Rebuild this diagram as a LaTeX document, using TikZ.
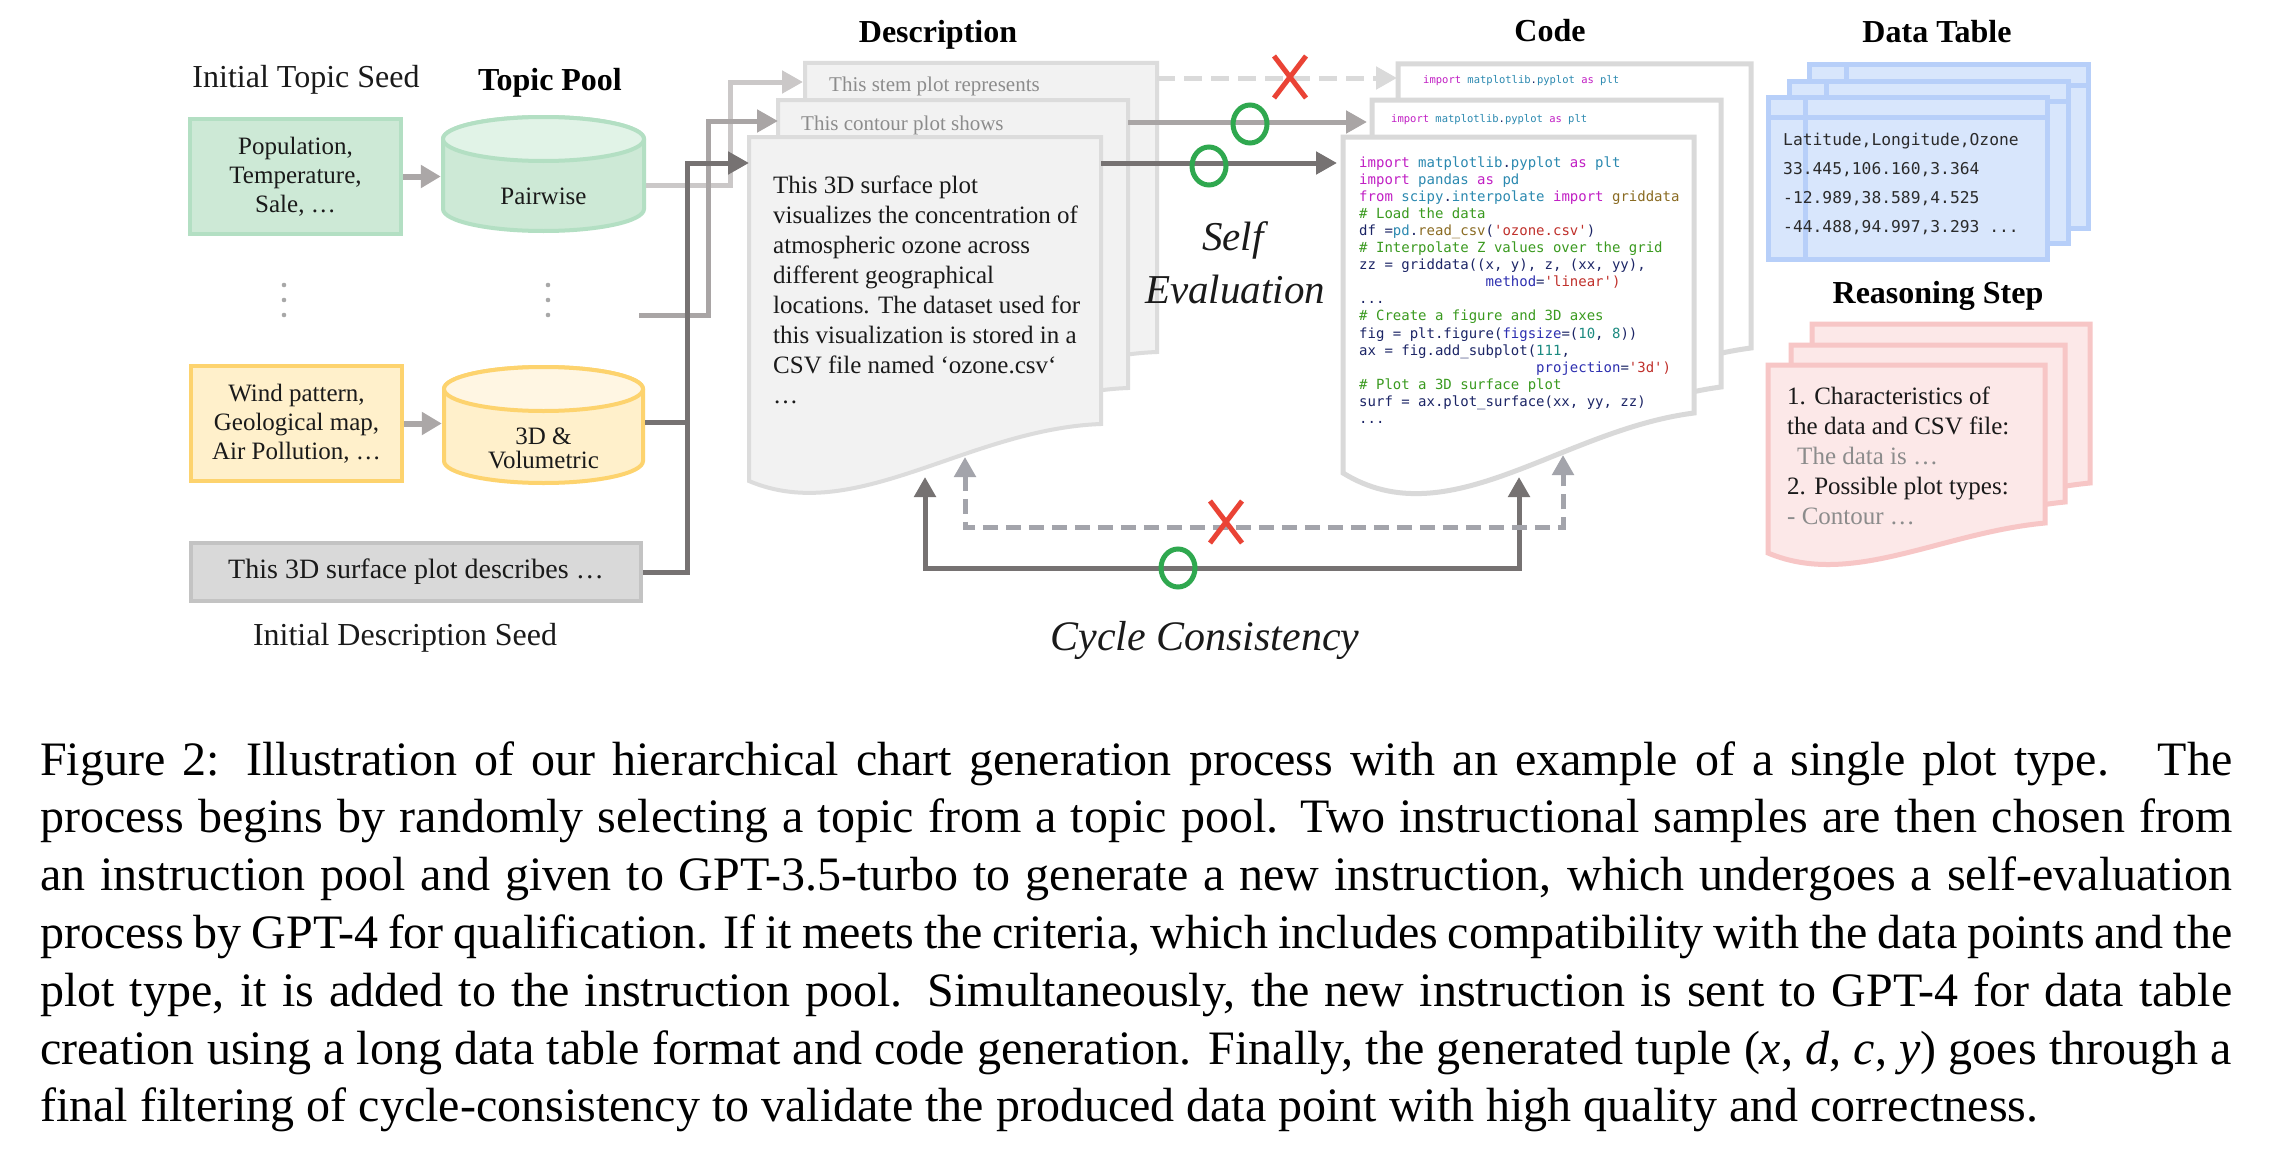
\documentclass[tikz,border=0pt]{standalone}
\usepackage{fontspec}
\setmainfont{Liberation Serif}
\newfontfamily\codefont{DejaVu Sans Mono}
\usetikzlibrary{arrows.meta}
\definecolor{gborder}{HTML}{B3DFC3}
\definecolor{gfill}{HTML}{CDE9D6}
\definecolor{gtop}{HTML}{E1F3E7}
\definecolor{yborder}{HTML}{FDD36E}
\definecolor{yfill}{HTML}{FFF0CB}
\definecolor{ytop}{HTML}{FFF6E3}
\definecolor{sborder}{HTML}{C3C3C3}
\definecolor{sfill}{HTML}{D9D9D9}
\definecolor{dotc}{HTML}{A8A8A8}
\definecolor{arrS}{HTML}{ABA7A7}
\definecolor{lnL}{HTML}{CBC8C8}
\definecolor{lnM}{HTML}{A9A5A5}
\definecolor{lnD}{HTML}{767272}
\definecolor{lnDash}{HTML}{DADADA}
\definecolor{cycG}{HTML}{A3A4AB}
\definecolor{pgB}{HTML}{DCDCDC}
\definecolor{pgF}{HTML}{F2F2F2}
\definecolor{cdB}{HTML}{D9D9D9}
\definecolor{tbB}{HTML}{B7CFF9}
\definecolor{tbF}{HTML}{D8E6FC}
\definecolor{rsB}{HTML}{F7C6C6}
\definecolor{rsF}{HTML}{FCE8E8}
\definecolor{txt}{HTML}{1A1A1A}
\definecolor{gtxt}{HTML}{8C8C8C}
\definecolor{redX}{HTML}{EA4335}
\definecolor{grnO}{HTML}{2FA84F}
\definecolor{ckw}{HTML}{C11FC4}
\definecolor{cmod}{HTML}{2B89B0}
\definecolor{cfn}{HTML}{8A6B22}
\definecolor{ccom}{HTML}{3A9A1F}
\definecolor{cnav}{HTML}{1C2566}
\definecolor{cstr}{HTML}{C0302B}
\definecolor{ckey}{HTML}{2D2FB0}
\definecolor{cnum}{HTML}{1B8A80}
\definecolor{ctab}{HTML}{2B2B2B}
\newcommand{\K}[1]{\textcolor{ckw}{#1}}
\newcommand{\M}[1]{\textcolor{cmod}{#1}}
\newcommand{\F}[1]{\textcolor{cfn}{#1}}
\newcommand{\Cm}[1]{\textcolor{ccom}{#1}}
\newcommand{\N}[1]{\textcolor{cnav}{#1}}
\newcommand{\Sq}[1]{\textcolor{cstr}{#1}}
\newcommand{\B}[1]{\textcolor{ckey}{#1}}
\newcommand{\U}[1]{\textcolor{cnum}{#1}}
\newcommand{\Ln}[1]{\hbox{#1}}
\newcommand{\JL}[1]{\hbox to 2192pt{#1}}
% document page: style, L, T, R, Rb, Lb, d1, d2
\newcommand{\DocPage}[8]{%
  \path[#1] (#2,#3) -- (#4,#3) -- (#4,#5) .. controls ({#2+0.62*(#4-#2)},{#5+#8}) and ({#2+0.3*(#4-#2)},{#6+#7}) .. (#2,#6) -- cycle;}
% cylinder: cx, top centre y, bottom centre y, rx, ry, body style, end style
\newcommand{\Cyl}[7]{%
  \path[#6] ({#1-#4},#2) -- ({#1-#4},#3) arc[start angle=180,end angle=0,x radius=#4,y radius=#5] -- ({#1+#4},#2) arc[start angle=0,end angle=-180,x radius=#4,y radius=#5] -- cycle;
  \path[#7] (#1,#2) ellipse[x radius=#4,y radius=#5];}
\newcommand{\DataTab}[4]{%
  \path[tabbox] (#1,#2) rectangle (#3,#4);
  \path[tabline] (#1,{#2+20}) -- (#3,{#2+20});
  \path[tabline] ({#1+37},#2) -- ({#1+37},#4);}
\newcommand{\Xmark}[2]{\path[xmk] ({#1-16},{#2-21}) -- ({#1+16},{#2+21}) ({#1+16},{#2-21}) -- ({#1-16},{#2+21});}
\newcommand{\Omark}[2]{\path[omk] (#1,#2) ellipse[x radius=17,y radius=19];}
\tikzset{
  lbl/.style={anchor=base, inner sep=0pt, text=txt, font=\fontsize{32}{38}\selectfont},
  ttl/.style={anchor=base, inner sep=0pt, text=black, font=\fontsize{32}{38}\selectfont\bfseries},
  seedbox/.style={line width=4pt, inner sep=0pt, minimum width=211pt, minimum height=115pt, align=center, text=txt, font=\fontsize{25}{29}\selectfont},
  invis/.style={inner sep=0pt},
  txtblk/.style={anchor=base west, inner sep=0pt, text=txt},
  conS/.style={draw=arrS, line width=6pt, -{Triangle[length=20pt,width=22pt]}},
  conL/.style={draw=lnL, line width=5pt},
  conM/.style={draw=lnM, line width=5pt},
  conD/.style={draw=lnD, line width=5pt},
  tipA/.style={-{Triangle[length=21pt,width=22pt]}},
  tipB/.style={{Triangle[length=20pt,width=21pt]}-{Triangle[length=20pt,width=21pt]}},
  descpg/.style={draw=pgB, fill=pgF, line width=4pt},
  codepg/.style={draw=cdB, fill=white, line width=5pt},
  rspg/.style={draw=rsB, fill=rsF, line width=5pt},
  tabbox/.style={draw=tbB, fill=tbF, line width=5pt},
  tabline/.style={draw=tbB, line width=5pt},
  xmk/.style={draw=redX, line width=5pt},
  omk/.style={draw=grnO, line width=5pt},
}
\begin{document}
\begin{tikzpicture}[x=1pt,y=-1pt]
\fill[white] (0,0) rectangle (2288,1156);
\useasboundingbox (0,0) rectangle (2288,1156);

% ---------- left column ----------
\node[seedbox, draw=gborder, fill=gfill] (gseed) at (295.5,176.5) {Population,\\Temperature,\\Sale, …};
\node[seedbox, draw=yborder, fill=yfill] (yseed) at (296.5,423.5) {Wind pattern,\\Geological map,\\Air Pollution, …};
\node[draw=sborder, fill=sfill, line width=4pt, inner sep=0pt, minimum width=450pt, minimum height=58pt, text=txt, font=\fontsize{28}{32}\selectfont] (gdesc) at (416,572) {This 3D surface plot describes …};

\Cyl{543.5}{139}{209}{100.5}{22}{draw=gborder, fill=gfill, line width=4pt}{draw=gborder, fill=gtop, line width=4pt}
\Cyl{543.5}{389}{461}{99.5}{22}{draw=yborder, fill=yfill, line width=4pt}{draw=yborder, fill=ytop, line width=4pt}
\node[invis, minimum width=205pt, minimum height=118pt] (pairwise) at (543.5,174) {};
\node[invis, minimum width=203pt, minimum height=120pt] (volum) at (543.5,425) {};
\node[lbl, font=\fontsize{25}{29}\selectfont] (pairtxt) at (543.5,204) {Pairwise};
\node[invis, align=center, text=txt, font=\fontsize{25}{24}\selectfont] (voltxt) at (543.5,448.5) {3D \&\\Volumetric};

\foreach \yy in {285,300,315} {
  \fill[dotc] (284,\yy) circle[radius=2.3];
  \fill[dotc] (548,\yy) circle[radius=2.3];
}

% ---------- description pages ----------
\DocPage{descpg}{805}{63}{1157}{352}{409}{45}{5}
\node[txtblk, text=gtxt, font=\fontsize{21}{25}\selectfont] (stemtxt) at (829,92) {This stem plot represents};
\DocPage{descpg}{778}{100}{1128}{388}{445}{45}{5}
\node[txtblk, text=gtxt, font=\fontsize{21}{25}\selectfont] (conttxt) at (801,130) {This contour plot shows};
\DocPage{descpg}{749}{137}{1101}{424}{481}{45}{5}
\node[txtblk, font=\fontsize{25}{30}\selectfont] (desctxt) at (773,193) {\vtop{%
\Ln{This 3D surface plot}%
\Ln{visualizes the concentration of}%
\Ln{atmospheric ozone across}%
\Ln{different geographical}%
\Ln{locations. The dataset used for}%
\Ln{this visualization is stored in a}%
\Ln{CSV file named `ozone.csv`}%
\Ln{…}}};

% ---------- code pages ----------
\DocPage{codepg}{1398}{64}{1751}{348}{405}{65}{17}
\node[txtblk, font=\codefont\fontsize{10.5}{12}\selectfont] (codeBtxt) at (1423,83) {\K{import} \M{matplotlib}\N{.}\M{pyplot} \K{as} \M{plt}};
\DocPage{codepg}{1372}{100}{1721}{387}{444}{65}{17}
\node[txtblk, font=\codefont\fontsize{10.5}{12}\selectfont] (codeMtxt) at (1391,122) {\K{import} \M{matplotlib}\N{.}\M{pyplot} \K{as} \M{plt}};
\DocPage{codepg}{1343}{137}{1694}{413}{473}{65}{17}
\node[txtblk, font=\codefont\fontsize{14}{17.1}\selectfont] (codetxt) at (1359,167) {\vtop{%
\Ln{\K{import} \M{matplotlib}\N{.}\M{pyplot} \K{as} \M{plt}}%
\Ln{\K{import} \M{pandas} \K{as} \M{pd}}%
\Ln{\K{from} \M{scipy}\N{.}\M{interpolate} \K{import} \F{griddata}}%
\Ln{\Cm{\# Load the data}}%
\Ln{\N{df =}\M{pd}\N{.}\F{read\_csv}\N{(}\Sq{'ozone.csv'}\N{)}}%
\Ln{\Cm{\# Interpolate Z values over the grid}}%
\Ln{\N{zz = griddata((x, y), z, (xx, yy),}}%
\Ln{\hphantom{000000000000000}\B{method}\N{=}\Sq{'linear')}}%
\Ln{\N{...}}%
\Ln{\Cm{\# Create a figure and 3D axes}}%
\Ln{\N{fig = plt.figure(}\B{figsize}\N{=(}\U{10}\N{, }\U{8}\N{))}}%
\Ln{\N{ax = fig.add\_subplot(}\U{111}\N{,}}%
\Ln{\hphantom{000000000000000000000}\B{projection}\N{=}\Sq{'3d')}}%
\Ln{\Cm{\# Plot a 3D surface plot}}%
\Ln{\N{surf = ax.plot\_surface(xx, yy, zz)}}%
\Ln{\N{...}}}};

% ---------- data tables ----------
\DataTab{1809}{65}{2088}{228}
\DataTab{1789}{81}{2068}{243}
\DataTab{1768}{97}{2047}{259}
\node[txtblk, text=ctab, font=\codefont\fontsize{16.3}{29}\selectfont] (tabtxt) at (1783,145) {\vtop{%
\Ln{Latitude,Longitude,Ozone}%
\Ln{33.445,106.160,3.364}%
\Ln{-12.989,38.589,4.525}%
\Ln{-44.488,94.997,3.293 ...}}};

% ---------- reasoning pages ----------
\DocPage{rspg}{1812}{324}{2090}{483}{513}{35}{10}
\DocPage{rspg}{1791}{345}{2065}{502}{532}{35}{10}
\DocPage{rspg}{1768}{365}{2045}{523}{553}{35}{10}
\node[txtblk, font=\fontsize{25}{30.2}\selectfont] (reastxt) at (1787,404) {\vtop{%
\Ln{1. Characteristics of}%
\Ln{the data and CSV file:}%
\Ln{\hspace*{10pt}\textcolor{gtxt}{The data is …}}%
\Ln{2. Possible plot types:}%
\Ln{\textcolor{gtxt}{- Contour …}}}};

% ---------- connector coordinates ----------
\coordinate (pwout) at (646,185);
\coordinate (dotsout) at (639,315);
\coordinate (vmout) at (645,422);
\coordinate (jn) at (687,422);
\coordinate (stemin) at (803,82);
\coordinate (contin) at (778,121);
\coordinate (frontin) at (749,163);
\coordinate (stemout) at (1157,78);
\coordinate (codeBin) at (1397,78);
\coordinate (contout) at (1128,122);
\coordinate (codeMin) at (1367,122);
\coordinate (frontout) at (1101,163);
\coordinate (codeFin) at (1337,163);
\coordinate (descbot) at (925,477);
\coordinate (codebot) at (1519,477);
\coordinate (descbotB) at (965,457);
\coordinate (codebotB) at (1563,455);

% ---------- connectors ----------
\draw[conS] (gseed.east) -- (gseed.east -| pairwise.west);
\draw[conS] (yseed.east) -- (yseed.east -| volum.west);
\draw[conL, tipA] (pwout) -- (730,185) -- (730,82) -- (stemin);
\draw[conM, tipA] (dotsout) -- (708,315) -- (708,121) -- (contin);
\draw[conD] (vmout) -- (jn);
\draw[conD, tipA] (gdesc.east) -- (gdesc.east -| jn) -- (jn |- frontin) -- (frontin);

\draw[draw=lnDash, line width=5pt, dash pattern=on 18pt off 9pt, tipA] (stemout) -- (codeBin);
\draw[conM, tipA] (contout) -- (codeMin);
\draw[conD, tipA] (frontout) -- (codeFin);

\draw[conD, tipB] (descbot) -- (925,568) -- (1519,568) -- (codebot);
\draw[draw=cycG, line width=5pt, dash pattern=on 15pt off 8pt, tipB] (descbotB) -- (965,527) -- (1563,527) -- (codebotB);

% ---------- marks ----------
\Xmark{1290}{77}
\Omark{1250}{124}
\Omark{1209}{166}
\Xmark{1226}{522}
\Omark{1178}{568}

% ---------- labels ----------
\node[lbl] (topicseedlbl) at (306,87) {Initial Topic Seed};
\node[ttl] (poollbl) at (550,90) {Topic Pool};
\node[ttl] (desclbl) at (938,43) {Description};
\node[ttl] (codelbl) at (1550,42) {Code};
\node[ttl] (tablbl) at (1937,43) {Data Table};
\node[ttl] (reaslbl) at (1938,303) {Reasoning Step};
\node[lbl] (descseedlbl) at (405,645) {Initial Description Seed};
\node[lbl, font=\fontsize{41}{48}\selectfont\itshape] (selfA) at (1233,250) {Self};
\node[lbl, font=\fontsize{41}{48}\selectfont\itshape] (selfB) at (1235,303) {Evaluation};
\node[lbl, font=\fontsize{42}{48}\selectfont\itshape] (cyclbl) at (1205,650) {Cycle Consistency};

% ---------- caption ----------
\node[anchor=base west, inner sep=0pt, text=black, font=\fontsize{48}{57.8}\selectfont] (caption) at (40,775) {\vtop{%
\JL{Figure 2: Illustration of our hierarchical chart generation process with an example of a single plot type. \ The}%
\JL{process begins by randomly selecting a topic from a topic pool. Two instructional samples are then chosen from}%
\JL{an instruction pool and given to GPT-3.5-turbo to generate a new instruction, which undergoes a self-evaluation}%
\JL{process by GPT-4 for qualification. If it meets the criteria, which includes compatibility with the data points and the}%
\JL{plot type, it is added to the instruction pool. Simultaneously, the new instruction is sent to GPT-4 for data table}%
\JL{creation using a long data table format and code generation. Finally, the generated tuple (\textit{x}, \textit{d}, \textit{c}, \textit{y}) goes through a}%
\Ln{final filtering of cycle-consistency to validate the produced data point with high quality and correctness.}}};
\end{tikzpicture}
\end{document}
